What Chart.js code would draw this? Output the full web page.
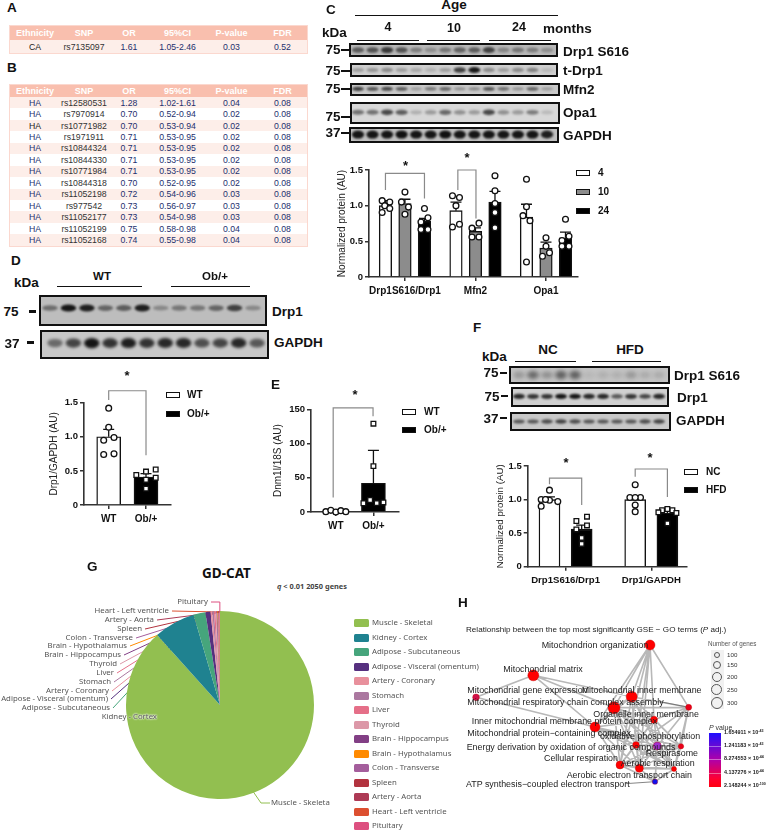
<!DOCTYPE html>
<html>
<head>
<meta charset="utf-8">
<script src="https://cdn.jsdelivr.net/npm/chart.js@4/dist/chart.umd.min.js"></script>
<style>
  html, body { margin: 0; padding: 0; background: #fff; }
  #page { position: relative; width: 768px; height: 831px; overflow: hidden; font-family: "Liberation Sans", Arial, sans-serif; color: #111; }
  #page canvas { position: absolute; }
  .t { position: absolute; white-space: nowrap; line-height: 1; }
  .box { position: absolute; }
  table.snp { position: absolute; left: 10px; width: 297px; border-collapse: collapse; table-layout: fixed; font-size: 8.7px; }
  table.snp td, table.snp th { padding: 0; text-align: center; color: #24306e; font-weight: normal; }
  table.snp th { background: #f9bfae; color: #fff; font-weight: bold; font-size: 9px; }
  table.snp tr { background: #fff; }
  table.snp tr.o { background: #fdeee9; }
  table.snp { outline: 1px solid #fbd8cf; }
  table.snp td.snpid { color: #333; }
  table.snp td.blk { color: #222; }
</style>
</head>
<body>
<div id="page"></div>
<script>
// ---------- tables A / B ----------
const tableHead = ['Ethnicity', 'SNP', 'OR', '95%CI', 'P-value', 'FDR'];
const tableA = [['CA', 'rs7135097', '1.61', '1.05-2.46', '0.03', '0.52']];
const tableB = [
  ['HA', 'rs12580531', '1.28', '1.02-1.61', '0.04', '0.08'],
  ['HA', 'rs7970914', '0.70', '0.52-0.94', '0.02', '0.08'],
  ['HA', 'rs10771982', '0.70', '0.53-0.94', '0.02', '0.08'],
  ['HA', 'rs1971911', '0.71', '0.53-0.95', '0.02', '0.08'],
  ['HA', 'rs10844324', '0.71', '0.53-0.95', '0.02', '0.08'],
  ['HA', 'rs10844330', '0.71', '0.53-0.95', '0.02', '0.08'],
  ['HA', 'rs10771984', '0.71', '0.53-0.95', '0.02', '0.08'],
  ['HA', 'rs10844318', '0.70', '0.52-0.95', '0.02', '0.08'],
  ['HA', 'rs11052198', '0.72', '0.54-0.96', '0.03', '0.08'],
  ['HA', 'rs977542', '0.73', '0.56-0.97', '0.03', '0.08'],
  ['HA', 'rs11052177', '0.73', '0.54-0.98', '0.03', '0.08'],
  ['HA', 'rs11052199', '0.75', '0.58-0.98', '0.04', '0.08'],
  ['HA', 'rs11052168', '0.74', '0.55-0.98', '0.04', '0.08']
];

// ---------- panel C ----------
const cLabels = ['Drp1S616/Drp1', 'Mfn2', 'Opa1'];
const cBars4 = [1.0, 0.93, 0.84];
const cBars10 = [1.03, 0.64, 0.405];
const cBars24 = [0.78, 1.05, 0.55];
const cErr4 = [1.07, 1.05, 1.02];
const cErr10 = [1.09, 0.69, 0.49];
const cErr24 = [0.82, 1.2, 0.63];
const cPts4 = [[1.07, 1.05, 0.905, 1.0, 0.96], [1.14, 1.115, 1.0, 0.74, 0.70], [1.37, 0.985, 0.86, 0.79, 0.21]];
const cPts10 = [[1.19, 1.05, 0.98, 0.88], [0.685, 0.755, 0.56, 0.56], [0.55, 0.43, 0.29, 0.34]];
const cPts24 = [[0.96, 0.83, 0.77, 0.665, 0.665], [1.42, 1.21, 1.03, 0.905, 0.69], [0.81, 0.57, 0.51, 0.43, 0.43]];

// ---------- panel D ----------
const dLabels = ['WT', 'Ob/+'];
const dBars = [1.0, 0.41];
const dErr = [1.11, 0.46];
const dPtsWT = [1.42, 1.14, 0.99, 0.95, 0.75, 0.74];
const dPtsOb = [0.52, 0.49, 0.44, 0.40, 0.37, 0.24];

// ---------- panel E ----------
const eLabels = ['WT', 'Ob/+'];
const eBars = [1.5, 42];
const eErr = [2.5, 90];
const ePtsWT = [0.5, 2.4, 0, 2, 0.5];
const ePtsOb = [129, 67, 17.5, 12.7, 13, 14];

// ---------- panel F ----------
const fLabels = ['Drp1S616/Drp1', 'Drp1/GAPDH'];
const fBarsNC = [1.0, 1.0];
const fBarsHFD = [0.56, 0.80];
const fErrNC = [1.04, 1.06];
const fErrHFD = [0.62, 0.85];
const fPtsNC = [[1.14, 1.0, 0.99, 0.97, 1.0, 0.90], [1.22, 1.03, 1.03, 1.03, 0.92, 0.82]];
const fPtsHFD = [[0.745, 0.68, 0.615, 0.555, 0.43, 0.34], [0.86, 0.84, 0.84, 0.81, 0.80, 0.645]];

// ---------- blots: band darkness per lane ----------
const blotCS616 = [0.55, 0.6, 0.75, 0.6, 0.35, 0.25, 0.4, 0.5, 0.55, 0.7, 0.3, 0.4, 0.35, 0.25];
const blotCTDrp1 = [0.25, 0.3, 0.35, 0.25, 0.2, 0.15, 0.25, 0.75, 0.95, 0.35, 0.25, 0.35, 0.4, 0.12];
const blotCMfn2 = [0.75, 0.65, 0.7, 0.6, 0.25, 0.45, 0.55, 0.3, 0.35, 0.65, 0.5, 0.3, 0.55, 0.25];
const blotCOpa1 = [0.5, 0.5, 0.7, 0.6, 0.2, 0.3, 0.55, 0.35, 0.3, 0.7, 0.35, 0.3, 0.45, 0.15];
const blotCGapdh = [0.95, 0.95, 0.95, 0.98, 0.95, 0.95, 0.98, 0.95, 0.95, 0.95, 0.95, 0.95, 0.95, 0.9];
const blotDDrp1 = [0.45, 0.95, 0.9, 0.5, 0.55, 0.9, 0.3, 0.4, 0.4, 0.5, 0.7, 0.3];
const blotDGapdh = [0.5, 0.7, 0.95, 0.8, 0.9, 0.8, 0.85, 0.85, 0.65, 0.7, 0.85, 0.6];
const blotFS616 = [0.25, 0.5, 0.3, 0.55, 0.55, 0.08, 0.12, 0.12, 0.25, 0.15, 0.15];
const blotFDrp1 = [0.85, 0.8, 0.8, 0.95, 0.95, 0.85, 0.85, 0.6, 0.8, 0.7, 0.85];
const blotFGapdh = [0.6, 0.6, 0.65, 0.7, 0.65, 0.6, 0.6, 0.6, 0.6, 0.65, 0.7];

// ---------- panel G ----------
const tissues = ['Muscle - Skeletal', 'Kidney - Cortex', 'Adipose - Subcutaneous', 'Adipose - Visceral (omentum)',
  'Artery - Coronary', 'Stomach', 'Liver', 'Thyroid', 'Brain - Hippocampus', 'Brain - Hypothalamus',
  'Colon - Transverse', 'Spleen', 'Artery - Aorta', 'Heart - Left ventricle', 'Pituitary'];
const tissueGenes = [1811, 146, 42, 18, 6, 6, 5, 4, 3, 2, 2, 2, 1, 1, 1];
const tissueColors = ['#92bf50', '#1f8290', '#46a57c', '#56307f', '#e8909c', '#ab78a0', '#e56f88', '#dc98a8',
  '#823f85', '#ff8a00', '#a45e9c', '#b2333f', '#ad3a55', '#dc4f30', '#dd5080'];

// ---------- panel H ----------
const goTerms = ['Mitochondrion organization', 'Mitochondrial matrix', 'Mitochondrial gene expression',
  'Mitochondrial inner membrane', 'Mitochondrial respiratory chain complex assembly', 'Organelle inner membrane',
  'Inner mitochondrial membrane protein complex', 'Mitochondrial protein\u2212containing complex',
  'oxidative phosphorylation', 'Energy derivation by oxidation of organic compounds', 'Respirasome',
  'Cellular respiration', 'Aerobic respiration', 'Aerobic electron transport chain',
  'ATP synthesis\u2212coupled electron transport'];
const goX = [600, 250, 78, 545, 716, 492, 612, 435, 693, 558, 622, 510, 568, 672, 615];
const goY = [165, 256, 322, 320, 352, 353, 389, 411, 469, 465, 468, 525, 535, 537, 575];
const goRadius = [5, 5.5, 3.3, 5.5, 3, 6, 3.5, 5, 2.7, 3.3, 4, 4, 4, 2.5, 2.7];
const goColors = ['#f00', '#f00', '#d0104a', '#f00', '#e8001a', '#f00', '#f00', '#f00', '#e8001a', '#f00', '#a030d0', '#f00', '#f00', '#f00', '#1010ee'];
const goEdges = [[0,3],[0,4],[0,5],[0,6],[0,7],[0,9],[0,11],[0,12],
  [1,2],[1,3],[1,5],[1,7],[2,7],
  [3,4],[3,5],[3,6],[3,7],[3,8],[3,9],[3,10],[3,11],[3,12],[3,13],
  [4,5],[4,6],[4,8],[4,9],[4,10],[4,13],
  [5,6],[5,7],[5,8],[5,9],[5,10],[5,11],[5,12],[5,13],
  [6,7],[6,8],[6,9],[6,10],[6,11],[6,12],[6,13],
  [7,8],[7,9],[7,10],[7,11],[7,12],[7,13],
  [8,9],[8,10],[8,11],[8,12],[8,13],
  [9,10],[9,11],[9,12],[9,13],
  [10,11],[10,12],[10,13],[10,14],
  [11,12],[11,13],[11,14],[12,13],[12,14],[13,14]];
const sizeLegendGenes = ['100', '150', '200', '250', '300'];
const pLegendMant = ['1.654911', '1.241183', '8.274553', '4.137276', '2.148244'];
const pLegendExp = ['-43', '-43', '-44', '-44', '-100'];

// ---------- helpers ----------
const page = document.getElementById('page');
const FONT = '"Liberation Sans", Arial, sans-serif';
Chart.defaults.animation = false;
Chart.defaults.responsive = false;
Chart.defaults.devicePixelRatio = 1;
Chart.defaults.font.family = FONT;

function txt(s, x, y, size, o) {
  o = o || {};
  const d = document.createElement('div');
  d.className = 't';
  d.innerHTML = s;
  d.style.left = x + 'px';
  d.style.top = y + 'px';
  d.style.fontSize = size + 'px';
  if (o.bold) d.style.fontWeight = 'bold';
  if (o.color) d.style.color = o.color;
  if (o.font) d.style.fontFamily = o.font;
  if (o.halo) d.style.textShadow = '0 0 2px #fff, 0 0 2px #fff, 0 0 2px #fff';
  const tx = o.align === 'c' ? '-50%' : (o.align === 'r' ? '-100%' : '0');
  d.style.transform = 'translate(' + tx + ',-50%)';
  d.style.zIndex = 5;
  page.appendChild(d);
  return d;
}

function rect(x, y, w, h, o) {
  o = o || {};
  const d = document.createElement('div');
  d.className = 'box';
  d.style.left = x + 'px';
  d.style.top = y + 'px';
  d.style.width = w + 'px';
  d.style.height = h + 'px';
  d.style.background = o.bg || '#111';
  if (o.border) { d.style.border = o.border; d.style.boxSizing = 'border-box'; }
  if (o.radius) d.style.borderRadius = o.radius + 'px';
  if (o.z) d.style.zIndex = o.z;
  page.appendChild(d);
  return d;
}

function newCanvas(l, t, w, h) {
  const c = document.createElement('canvas');
  c.width = w;
  c.height = h;
  c.style.left = l + 'px';
  c.style.top = t + 'px';
  c.style.width = w + 'px';
  c.style.height = h + 'px';
  page.appendChild(c);
  return c;
}

function makeTable(rows, top, headH, rowH, blackRow) {
  const t = document.createElement('table');
  t.className = 'snp';
  t.style.top = top + 'px';
  const widths = [50, 48, 42, 55, 53, 49];
  const cg = document.createElement('colgroup');
  widths.forEach(function(w) { const c = document.createElement('col'); c.style.width = w + 'px'; cg.appendChild(c); });
  t.appendChild(cg);
  const hr = document.createElement('tr');
  hr.style.height = headH + 'px';
  tableHead.forEach(function(h) { const th = document.createElement('th'); th.textContent = h; hr.appendChild(th); });
  t.appendChild(hr);
  rows.forEach(function(r, i) {
    const tr = document.createElement('tr');
    tr.style.height = rowH + 'px';
    if (i % 2 === 0) tr.className = 'o';
    r.forEach(function(v, j) {
      const td = document.createElement('td');
      td.textContent = v;
      if (j === 1) td.className = 'snpid';
      if (j === 0 && (i === blackRow || v === 'CA')) td.className = 'blk';
      tr.appendChild(td);
    });
    t.appendChild(tr);
  });
  page.appendChild(t);
}

// western blot strip: bands are scatter points on a lane scale, painted blurred by the plugin
function blot(box, laneFirst, laneLast, bands, o) {
  o = o || {};
  const l = box[0], t = box[1], w = box[2] - box[0], h = box[3] - box[1];
  const step = (laneLast - laneFirst) / (bands.length - 1);
  const bandY = o.bandY === undefined ? 0.5 : o.bandY;
  new Chart(newCanvas(l, t, w, h), {
    type: 'scatter',
    data: { datasets: [{ data: bands.map(function(v, i) { return { x: i, y: bandY }; }), pointRadius: 0 }] },
    options: {
      layout: { autoPadding: false },
      plugins: { legend: { display: false }, tooltip: { enabled: false } },
      scales: {
        x: { type: 'linear', display: false, min: (l - laneFirst) / step, max: (l + w - laneFirst) / step },
        y: { type: 'linear', display: false, min: 0, max: 1, reverse: true }
      }
    },
    plugins: [{
      id: 'bands',
      afterDatasetsDraw: function(chart) {
        const c = chart.ctx;
        c.save();
        c.fillStyle = o.bg || '#c8c8c8';
        c.fillRect(0, 0, w, h);
        c.filter = 'blur(' + (o.blur || 1.2) + 'px)';
        chart.getDatasetMeta(0).data.forEach(function(pt, i) {
          c.fillStyle = 'rgba(12,12,12,' + bands[i] + ')';
          c.beginPath();
          c.ellipse(pt.x, pt.y, step * 0.42, (o.bandH || 3) * (0.65 + bands[i] * 0.5), 0, 0, Math.PI * 2);
          c.fill();
        });
        c.filter = 'none';
        c.strokeStyle = '#111';
        c.lineWidth = 2;
        c.strokeRect(1, 1, w - 2, h - 2);
        c.restore();
      }
    }]
  });
}

// GraphPad style bars: linear x so bars, error bars, points and brackets share one scale
function barPanel(cfg) {
  const r = cfg.rect, p = cfg.plot;
  const unit = (p[2] - p[0]) / (cfg.xMax - cfg.xMin);
  const datasets = [];
  cfg.series.forEach(function(s) {
    datasets.push({
      type: 'bar', order: 3, grouped: false, barPercentage: 1, categoryPercentage: 1,
      maxBarThickness: cfg.barW,
      data: s.x.map(function(x, i) { return { x: x, y: s.y[i] }; }),
      backgroundColor: s.fill, borderColor: '#111', borderWidth: 1.4
    });
    const eb = [];
    const cap = 5.5 / unit;
    s.x.forEach(function(x, i) {
      eb.push({ x: x, y: s.y[i] }, { x: x, y: s.err[i] }, { x: null, y: null });
      eb.push({ x: x - cap, y: s.err[i] }, { x: x + cap, y: s.err[i] }, { x: null, y: null });
    });
    datasets.push({ type: 'scatter', order: 2, showLine: true, clip: false, pointRadius: 0, borderColor: s.errColor || '#111', borderWidth: 1.3, data: eb });
    const pts = [];
    s.x.forEach(function(x, i) {
      s.pts[i].forEach(function(v, j) { pts.push({ x: x + s.jit[i][j] / unit, y: v }); });
    });
    datasets.push({
      type: 'scatter', order: 1, clip: false, data: pts, pointStyle: s.shape || 'circle',
      pointRadius: s.shape === 'rect' ? 3.3 : 2.9, pointBorderWidth: 1.3, pointBorderColor: '#111', pointBackgroundColor: '#fff'
    });
  });
  cfg.brackets.forEach(function(b) {
    datasets.push({
      type: 'scatter', order: 0, showLine: true, clip: false, pointRadius: 0, borderColor: '#8a8a8a', borderWidth: 1.2,
      data: [{ x: b[0], y: b[1] }, { x: b[0], y: b[2] }, { x: b[3], y: b[2] }, { x: b[3], y: b[4] }]
    });
  });
  const axisLine = { color: '#333', width: 1.6 };
  const tickGrid = { drawOnChartArea: false, drawTicks: true, tickLength: 4, color: '#333', lineWidth: 1.5, offset: false };
  new Chart(newCanvas(r[0], r[1], r[2] - r[0], r[3] - r[1]), {
    type: 'bar',
    data: { datasets: datasets },
    options: {
      layout: { autoPadding: false, padding: { top: p[1] - r[1], right: r[2] - p[2], left: 0, bottom: 0 } },
      plugins: { legend: { display: false }, tooltip: { enabled: false } },
      scales: {
        x: {
          type: 'linear', offset: false, min: cfg.xMin, max: cfg.xMax, border: axisLine, grid: tickGrid,
          afterBuildTicks: function(s) { s.ticks = cfg.xLabels.map(function(l, i) { return { value: i }; }); },
          afterFit: function(s) { s.height = r[3] - p[3]; },
          ticks: {
            autoSkip: false, maxRotation: 0, padding: cfg.xPad || 4, color: '#111',
            font: { size: cfg.xFont || 10, weight: 'bold' },
            callback: function(v, i) { return cfg.xLabels[i]; }
          }
        },
        y: {
          type: 'linear', min: 0, max: cfg.yMax, border: axisLine, grid: tickGrid,
          afterFit: function(s) { s.width = p[0] - r[0]; },
          title: { display: true, text: cfg.yTitle, color: '#222', font: { size: cfg.yFont || 10 }, padding: 0 },
          ticks: { stepSize: cfg.yStep, padding: 2, color: '#111', font: { size: 9.5, weight: 'bold' } }
        }
      }
    }
  });
}

function legendRow(x, y, h, fill, label, tx) {
  rect(x, y - h / 2, 14, h, { bg: fill, border: '1.5px solid #111' });
  txt(label, tx, y, 10, { bold: true });
}

// ---------- panel letters ----------
txt('A', 7, 8, 13.5, { bold: true });
txt('B', 7, 68, 13.5, { bold: true });
txt('C', 326, 10, 13.5, { bold: true });
txt('D', 11, 261, 13.5, { bold: true });
txt('E', 271, 385, 13.5, { bold: true });
txt('F', 473, 328, 13.5, { bold: true });
txt('G', 87, 567, 13.5, { bold: true });
txt('H', 458, 603, 13.5, { bold: true });

makeTable(tableA, 26, 14, 13.3, -1);
makeTable(tableB, 85, 12, 11.44, 2);

// ---------- C blots ----------
txt('Age', 454, 5, 13.5, { bold: true, align: 'c' });
rect(355, 14.5, 203, 1.3);
txt('4', 388, 27, 12.5, { bold: true, align: 'c' });
txt('10', 454, 28, 12.5, { bold: true, align: 'c' });
txt('24', 519, 27, 12.5, { bold: true, align: 'c' });
txt('months', 543, 29, 13.5, { bold: true });
rect(357, 40, 62, 1);
rect(427, 40, 53, 1);
rect(489, 40, 62, 1);
txt('kDa', 322, 33, 13.5, { bold: true });
blot([349, 43, 558, 57], 358, 547, blotCS616, { bg: '#b8b8b8', bandH: 3 });
blot([350, 63, 558, 77], 358, 547, blotCTDrp1, { bg: '#cfcfcf', bandH: 2.6 });
blot([350, 83, 560, 96], 358, 547, blotCMfn2, { bg: '#c9c9c9', bandH: 2, bandY: 0.45 });
blot([350, 102, 560, 124], 358, 547, blotCOpa1, { bg: '#d8d8d8', bandH: 2.8, bandY: 0.47 });
blot([349, 127, 559, 143], 358, 547, blotCGapdh, { bg: '#c0c0c0', bandH: 3.6, bandY: 0.47 });
[['75', 50], ['75', 71], ['75', 89], ['75', 117], ['37', 133]].forEach(function(m) {
  txt(m[0], 333, m[1], 13.5, { bold: true, align: 'c' });
  rect(341, m[1] - 1, 9, 2);
});
txt('Drp1 S616', 563, 52, 13.5, { bold: true });
txt('t-Drp1', 563, 71, 13.5, { bold: true });
txt('Mfn2', 563, 90, 13.5, { bold: true });
txt('Opa1', 563, 113, 13.5, { bold: true });
txt('GAPDH', 563, 136, 13.5, { bold: true });

// ---------- C bars ----------
const cOffset = 19.5 / 70.5;
barPanel({
  rect: [336, 150, 600, 300], plot: [369, 170, 578, 277], xMin: -0.51, xMax: 2.454, yMax: 1.5, yStep: 0.5, barW: 12.5,
  xLabels: cLabels, yTitle: 'Normalized protein (AU)',
  series: [
    { x: [-cOffset, 1 - cOffset, 2 - cOffset], y: cBars4, err: cErr4, pts: cPts4, fill: '#fff',
      jit: [[-3.3, 4.3, -3.3, -0.7, 4.3], [-3.5, 3.5, 0, 3.5, -3.5], [0, 0, -3.5, 3.5, 0]] },
    { x: [0, 1, 2], y: cBars10, err: cErr10, pts: cPts10, fill: '#8c8c8c',
      jit: [[0, -3.5, 3.5, 0], [-3.5, 3.5, -3.5, 3.5], [0, 0, -3.5, 3.5]] },
    { x: [cOffset, 1 + cOffset, 2 + cOffset], y: cBars24, err: cErr24, pts: cPts24, fill: '#000',
      jit: [[0, 3.5, -3.5, -3.5, 3.5], [0, 0, 0, 0, 0], [0, 3.5, -3.5, 3.5, -3.5]] }
  ],
  brackets: [[-cOffset, 1.22, 1.453, cOffset, 1.10], [0.75, 1.22, 1.5, 1.007, 0.82]]
});
txt('*', 405.5, 165, 13, { bold: true, align: 'c' });
txt('*', 467, 157, 13, { bold: true, align: 'c' });
legendRow(576, 173, 6, '#fff', '4', 598);
legendRow(576, 192, 6, '#8c8c8c', '10', 598);
legendRow(576, 211, 6, '#000', '24', 598);

// ---------- D blots ----------
txt('kDa', 14, 283, 13.5, { bold: true });
txt('WT', 102, 277, 11.5, { bold: true, align: 'c' });
txt('Ob/+', 215, 277, 11.5, { bold: true, align: 'c' });
rect(57, 286, 85, 1);
rect(171, 286, 79, 1);
blot([39, 295, 267, 326], 50, 253, blotDDrp1, { bg: '#bdbdbd', bandH: 3.2, bandY: 0.42 });
blot([40, 330, 269, 359], 55, 257, blotDGapdh, { bg: '#c8c8c8', bandH: 4.6, bandY: 0.45, blur: 1.6 });
txt('75', 11, 312, 13.5, { bold: true, align: 'c' });
rect(29, 310, 7, 2.5);
txt('37', 12, 344, 13.5, { bold: true, align: 'c' });
rect(27, 341, 7, 2.5);
txt('Drp1', 272, 312, 13.5, { bold: true });
txt('GAPDH', 274, 343, 13.5, { bold: true });

// ---------- D bars ----------
barPanel({
  rect: [48, 380, 190, 530], plot: [84, 402.7, 171, 505], xMin: -0.662, xMax: 1.67, yMax: 1.5, yStep: 0.5, barW: 24,
  xLabels: dLabels, yTitle: 'Drp1/GAPDH (AU)',
  series: [
    { x: [0], y: [dBars[0]], err: [dErr[0]], pts: [dPtsWT], fill: '#fff', jit: [[0, 0, 5.3, -5, 5.3, -5]] },
    { x: [1], y: [dBars[1]], err: [dErr[1]], pts: [dPtsOb], fill: '#000', shape: 'rect', jit: [[9.7, 0, -9.7, 9.7, 0, 0]] }
  ],
  brackets: [[0, 1.54, 1.675, 1, 0.73]]
});
txt('*', 127, 375, 13, { bold: true, align: 'c' });
legendRow(166, 395, 6, '#fff', 'WT', 187);
legendRow(166, 414, 6, '#000', 'Ob/+', 187);

// ---------- E bars ----------
barPanel({
  rect: [272, 385, 420, 535], plot: [311, 409.3, 399, 512], xMin: -0.66, xMax: 1.68, yMax: 150, yStep: 50, barW: 24,
  xLabels: eLabels, yTitle: 'Dnm1l/18S (AU)',
  series: [
    { x: [0], y: [eBars[0]], err: [eErr[0]], pts: [ePtsWT], fill: '#fff', jit: [[-10, -5, 0, 5, 10]] },
    { x: [1], y: [eBars[1]], err: [eErr[1]], pts: [ePtsOb], fill: '#000', shape: 'rect', jit: [[0, 0, -3.3, -10, 3.3, 10]] }
  ],
  brackets: [[-0.07, 21, 152, 0.99, 140]]
});
txt('*', 355, 394, 13, { bold: true, align: 'c' });
legendRow(402, 412, 6, '#fff', 'WT', 424);
legendRow(402, 430, 6, '#000', 'Ob/+', 424);

// ---------- F blots ----------
txt('kDa', 482, 357, 13.5, { bold: true });
txt('NC', 548, 350, 13.5, { bold: true, align: 'c' });
txt('HFD', 630, 350, 13.5, { bold: true, align: 'c' });
rect(515, 361, 61, 1);
rect(592, 361, 69, 1);
blot([509, 366, 670, 384], 519, 659, blotFS616, { bg: '#c4c4c4', bandH: 4.5, blur: 2 });
blot([511, 387, 669, 407], 519, 659, blotFDrp1, { bg: '#d0d0d0', bandH: 2.4, bandY: 0.47, blur: 0.9 });
blot([510, 412, 671, 431], 519, 659, blotFGapdh, { bg: '#c8c8c8', bandH: 2.2, bandY: 0.5, blur: 1 });
txt('75', 491, 373, 13.5, { bold: true, align: 'c' });
rect(500, 372, 7, 2);
txt('75', 492, 397, 13.5, { bold: true, align: 'c' });
rect(501, 395, 7, 2);
txt('37', 491, 419, 13.5, { bold: true, align: 'c' });
rect(500, 417, 7, 2);
txt('Drp1 S616', 674, 376, 13.5, { bold: true });
txt('Drp1', 677, 398, 13.5, { bold: true });
txt('GAPDH', 676, 421, 13.5, { bold: true });

// ---------- F bars ----------
const fOffset = 16.1 / 85.7;
barPanel({
  rect: [495, 445, 700, 592], plot: [527.7, 466, 686.7, 566.7], xMin: -0.442, xMax: 1.413, yMax: 1.5, yStep: 0.5, barW: 21,
  xLabels: fLabels, yTitle: 'Normalized protein (AU)', yFont: 9.7, xFont: 9.6,
  series: [
    { x: [-fOffset, 1 - fOffset], y: fBarsNC, err: fErrNC, pts: fPtsNC, fill: '#fff', jit: [[0, -8.3, 0, 8.3, -4, -8.3], [0, -5.3, 5.3, 0, 0, 0]] },
    { x: [fOffset, 1 + fOffset], y: fBarsHFD, err: fErrHFD, pts: fPtsHFD, fill: '#000', shape: 'rect', jit: [[5.3, -5.3, 5.3, -5.3, 0, 0], [0, -5.3, 5, -9, 9, 0]] }
  ],
  brackets: [[-fOffset, 1.227, 1.32, fOffset, 0.92], [1 - fOffset, 1.34, 1.455, 1 + fOffset, 1.04]]
});
txt('*', 566, 462, 13, { bold: true, align: 'c' });
txt('*', 650, 457, 13, { bold: true, align: 'c' });
legendRow(684, 472, 6, '#fff', 'NC', 706);
legendRow(684, 490, 6, '#000', 'HFD', 706);

// ---------- G pie ----------
txt('GD-CAT', 202, 574, 13.5, { bold: true, font: '"Noto Sans", sans-serif' });
txt('<i>q</i> &lt; 0.01 2050 genes', 277, 587, 7.4, { bold: true, color: '#444', font: '"Noto Sans", sans-serif' });
const pieFont = { color: '#555', font: '"Noto Sans", sans-serif' };
// label anchors in page pixels: right edge of text, mid height
const tissueAnchorX = [267, 157, 110, 108, 109, 111, 114, 117, 121, 127, 133, 142, 154, 169, 208];
const tissueAnchorY = [803, 717, 708, 699, 691, 682, 673, 664, 655, 646, 638, 629, 620, 611, 602];
const pieTop = 595, pieH = 220;
new Chart(newCanvas(0, pieTop, 440, pieH), {
  type: 'pie',
  data: { labels: tissues, datasets: [{ data: tissueGenes, backgroundColor: tissueColors, borderWidth: 0 }] },
  options: {
    radius: 94,
    layout: { autoPadding: false },
    plugins: { legend: { display: false }, tooltip: { enabled: false } }
  },
  plugins: [{
    id: 'leaders',
    beforeDatasetsDraw: function(chart) {
      const c = chart.ctx;
      c.save();
      c.lineWidth = 1;
      chart.getDatasetMeta(0).data.forEach(function(arc, i) {
        const mid = (arc.startAngle + arc.endAngle) / 2;
        const ex = arc.x + Math.cos(mid) * (arc.outerRadius - 1);
        const ey = arc.y + Math.sin(mid) * (arc.outerRadius - 1);
        const ax = tissueAnchorX[i] + 3, ay = tissueAnchorY[i] - pieTop;
        c.strokeStyle = tissueColors[i];
        c.beginPath();
        if (i === 0) {
          c.moveTo(ax, ay); c.lineTo(ax - 9, ay); c.lineTo(ex, ey);
        } else if (i === tissues.length - 1) {
          c.moveTo(ax, ay); c.lineTo(ex, ay); c.lineTo(ex, ey);
        } else {
          c.moveTo(ax, ay); c.lineTo(ex, ey);
        }
        c.stroke();
      });
      c.restore();
    }
  }]
});
tissues.forEach(function(name, i) {
  if (i === 0) {
    txt('Muscle - Skeleta', tissueAnchorX[0] + 4, tissueAnchorY[0], 7.8, pieFont);
  } else {
    txt(name, tissueAnchorX[i], tissueAnchorY[i], 7.8, { color: pieFont.color, font: pieFont.font, align: 'r', halo: i === 1 });
  }
  const ly = 623 + i * 14.52;
  rect(354, ly - 4, 15, 8, { bg: tissueColors[i], radius: 1.5 });
  txt(name, 372, ly, 7.8, pieFont);
});

// ---------- H network ----------
txt('Relationship between the top most significantly GSE \u2212 GO terms (<i>P</i> adj.)', 466, 630, 8.1, { color: '#222' });
const edgeData = [];
goEdges.forEach(function(e) {
  edgeData.push({ x: goX[e[0]], y: goY[e[0]] }, { x: goX[e[1]], y: goY[e[1]] }, { x: null, y: null });
});
new Chart(newCanvas(450, 590, 318, 241), {
  type: 'scatter',
  data: {
    datasets: [
      { order: 3, showLine: true, pointRadius: 0, borderColor: '#b8b8b8', borderWidth: 1.6, data: edgeData },
      { order: 2, showLine: true, pointRadius: 0, borderColor: '#666', borderWidth: 0.8,
        data: [{ x: 630, y: 335 }, { x: goX[4], y: goY[4] }, { x: null, y: null }, { x: 527, y: 581 }, { x: goX[14], y: goY[14] }] },
      { order: 1, data: goX.map(function(x, i) { return { x: x, y: goY[i] }; }),
        pointRadius: goRadius, pointBackgroundColor: goColors, pointBorderColor: '#c00000', pointBorderWidth: 0.4 }
    ]
  },
  options: {
    layout: { autoPadding: false },
    plugins: { legend: { display: false }, tooltip: { enabled: false } },
    scales: {
      x: { type: 'linear', display: false, min: 0, max: 954 },
      y: { type: 'linear', display: false, min: 0, max: 723, reverse: true }
    }
  }
});
// term label positions: [left x, mid y] in page pixels
const goLabelPos = [[541.7, 645], [503.3, 669], [467.3, 690], [581.7, 690], [467.3, 701.7], [593.3, 714],
  [471.7, 721], [467.3, 733.3], [600, 736], [466.7, 746.7], [645.7, 752.7], [544, 757.7], [620.7, 763.3],
  [566.7, 775], [466, 783.7]];
goTerms.forEach(function(name, i) {
  txt(name, goLabelPos[i][0], goLabelPos[i][1], 8.9, { color: '#222' });
});

// size and P value keys
txt('Number of genes', 708, 644, 6.3, { color: '#555' });
rect(711, 650, 13, 59, { bg: '#f1f1f1' });
const sizeKeyY = [655, 665.3, 677, 689.7, 702.7];
const sizeKeyR = [3.2, 4, 5, 5.5, 6];
sizeLegendGenes.forEach(function(g, i) {
  const r = sizeKeyR[i];
  rect(716.7 - r, sizeKeyY[i] - r, r * 2, r * 2, { bg: 'transparent', border: '0.8px solid #555', radius: r + 1 });
  txt(g, 727, sizeKeyY[i], 6.2, { color: '#333' });
});
txt('<i>P</i> value', 709, 727, 7, { color: '#333' });
rect(709, 733, 12, 54, { bg: 'linear-gradient(#2010ff, #b000a8 50%, #ff0030 85%, #ff0010)' });
const pKeyY = [733, 746, 759, 773, 786];
pLegendMant.forEach(function(m, i) {
  txt(m + ' \u00d7 10<sup style="font-size:3.6px;vertical-align:2px">' + pLegendExp[i] + '</sup>', 724, pKeyY[i], 5.4, { bold: true, color: '#222' });
  if (i > 0 && i < 4) rect(709, pKeyY[i], 12, 0.6, { bg: 'rgba(255,255,255,0.4)' });
});
</script>
</body>
</html>
